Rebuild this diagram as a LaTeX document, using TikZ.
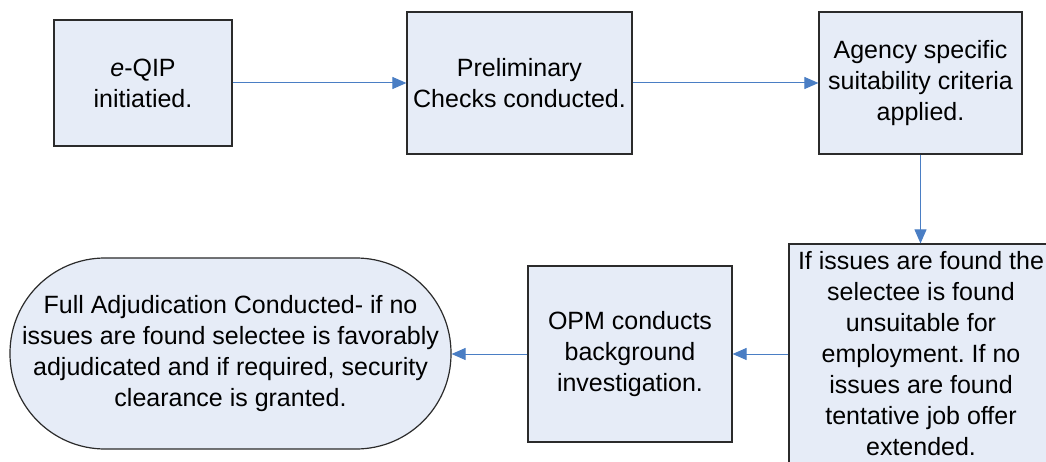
\documentclass[tikz,border=0pt]{standalone}
\usepackage{fontspec}
\setmainfont{Liberation Sans}
\usetikzlibrary{arrows.meta}
\definecolor{boxfill}{HTML}{E6ECF7}
\definecolor{arrowblue}{HTML}{4A7EC4}
\definecolor{edgecol}{HTML}{2B2B2B}
\frenchspacing
\begin{document}
\begin{tikzpicture}[x=1pt,y=-1pt,
  box/.style={draw=edgecol, line width=1.2pt, fill=boxfill, inner sep=0pt, align=center, font=\fontsize{25}{31}\selectfont},
  arr/.style={draw=arrowblue, line width=1pt, -{Triangle[length=14pt,width=12pt]}}]
\clip (0,0) rectangle (1046,462);
\fill[white] (0,0) rectangle (1046,462);
\node[box, minimum width=178pt, minimum height=126pt] (b1) at (143,83) {\textit{e}-QIP\\initiatied.};
\node[box, minimum width=225pt, minimum height=142pt] (b2) at (519.5,83) {Preliminary\\Checks conducted.};
\node[box, minimum width=203pt, minimum height=142pt] (b3) at (920.5,83) {Agency specific\\suitability criteria\\applied.};
\node[box, minimum width=204pt, minimum height=176pt] (b4) at (630,354) {OPM conducts\\background\\investigation.};
\node[box, minimum width=264pt, minimum height=220pt] (b5) at (921,354) {If issues are found the\\selectee is found\\unsuitable for\\employment. If no\\issues are found\\tentative job offer\\extended.};
\node[box, rounded corners=95pt, minimum width=441pt, minimum height=191pt] (b6) at (230.5,353.5) {Full Adjudication Conducted- if no\\issues are found selectee is favorably\\adjudicated and if required, security\\clearance is granted.};
\draw[arr] (b1) -- (b2);
\draw[arr] (b2) -- (b3);
\draw[arr] (b3.south) -- (b3.south |- b5.north);
\draw[arr] (b5.west |- b4.east) -- (b4.east);
\draw[arr] (b4.west) -- (b4.west -| b6.east);
\end{tikzpicture}
\end{document}
